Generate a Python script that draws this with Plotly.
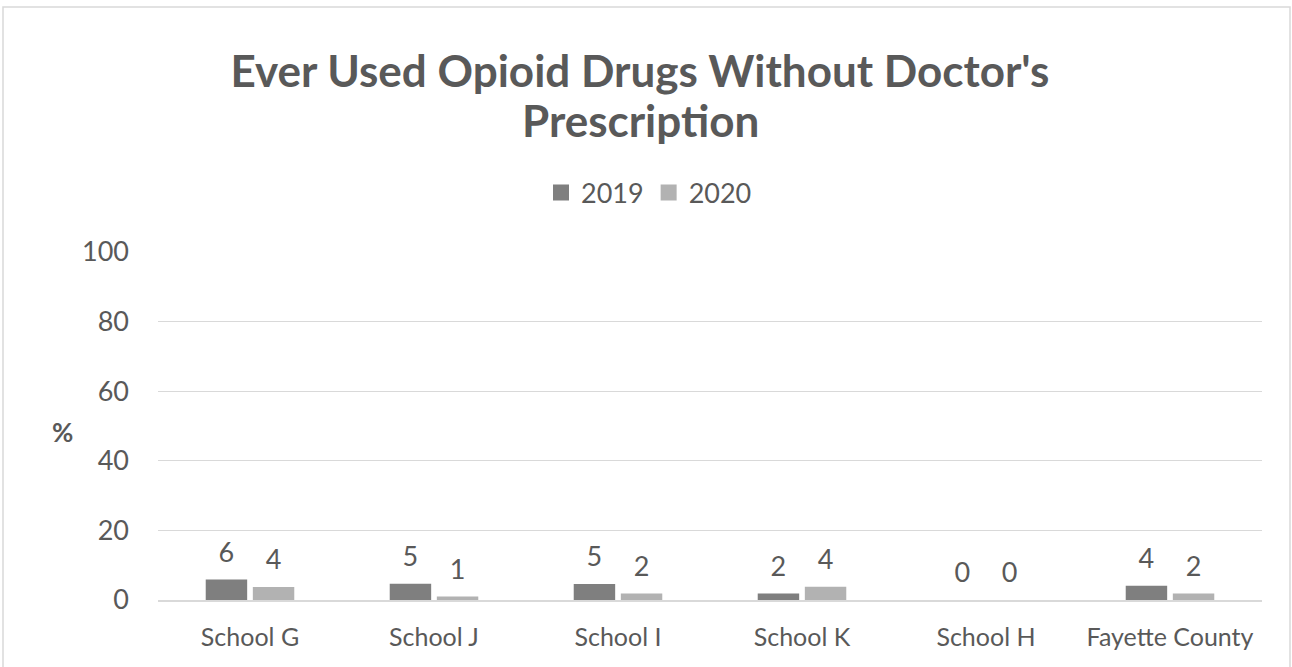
import plotly.graph_objects as go

categories = ["School G", "School J", "School I", "School K", "School H", "Fayette County"]
values_2019 = [5.9, 4.7, 4.6, 1.9, 0.0, 4.1]
values_2020 = [3.7, 1.0, 1.9, 3.8, 0.0, 1.9]
labels_2019 = ["6", "5", "5", "2", "0", "4"]
labels_2020 = ["4", "1", "2", "4", "0", "2"]
y_ticks = [0, 20, 40, 60, 80, 100]

FONT = "Lato, 'Open Sans', sans-serif"
TXT = "#595959"
C2019 = "#7f7f7f"
C2020 = "#b2b2b2"

W, H = 1292, 667
ML, MR, MT, MB = 158, 30, 252, 67
pw = W - ML - MR
ph = H - MT - MB

fig = go.Figure()
series = [("2019", values_2019, labels_2019, C2019, "a"),
          ("2020", values_2020, labels_2020, C2020, "b")]
for name, vals, labs, col, grp in series:
    fig.add_trace(go.Bar(
        name=name, x=categories, y=vals, offsetgroup=grp, showlegend=False,
        marker=dict(color=col, line=dict(width=0)),
    ))
for name, vals, labs, col, grp in series:
    fig.add_trace(go.Scatter(
        x=categories, y=vals, text=labs, mode="markers+text",
        textposition="top center", offsetgroup=grp, showlegend=False,
        marker=dict(size=16, color="rgba(0,0,0,0)"),
        textfont=dict(size=27, color=TXT, family=FONT),
        cliponaxis=False, hoverinfo="skip",
    ))
# legend entries (square swatches)
for name, vals, labs, col, grp in series:
    fig.add_trace(go.Scatter(
        name=name, x=[None], y=[None], mode="markers",
        marker=dict(symbol="square", size=16, color=col),
        showlegend=True,
    ))

fig.update_layout(
    width=W, height=H,
    margin=dict(l=ML, r=MR, t=MT, b=MB),
    paper_bgcolor="white", plot_bgcolor="white",
    barmode="group", bargap=0.488, bargroupgap=0.12,
    scattermode="group", scattergap=0.488,
    title=dict(
        text="<b>Ever Used Opioid Drugs Without Doctor's</b>",
        x=640 / W, xanchor="center", y=1 - 72 / H, yanchor="middle",
        font=dict(size=44, color=TXT, family=FONT),
    ),
    legend=dict(
        orientation="h", x=(649 - ML) / pw, xanchor="center",
        y=(H - MB - 193) / ph, yanchor="middle",
        font=dict(size=27, color=TXT, family=FONT),
        itemwidth=30, traceorder="normal",
    ),
    font=dict(family=FONT, color=TXT),
    shapes=[dict(
        type="rect", xref="paper", yref="paper",
        x0=(3 - ML) / pw, x1=(1290 - ML) / pw,
        y0=(H - MB - 700) / ph, y1=(H - MB - 7) / ph,
        line=dict(color="#d9d9d9", width=1.5), fillcolor="rgba(0,0,0,0)",
        layer="below",
    )],
)
fig.add_annotation(
    text="<b>Prescription</b>", xref="paper", yref="paper",
    x=(640 - ML) / pw, y=(H - MB - 120) / ph, showarrow=False,
    font=dict(size=44, color=TXT, family=FONT), xanchor="center", yanchor="middle",
)
fig.add_annotation(
    text="<b>%</b>", xref="paper", yref="paper",
    x=(62 - ML) / pw, y=(H - MB - 432) / ph, showarrow=False,
    font=dict(size=26, color=TXT, family=FONT), xanchor="center", yanchor="middle",
)
fig.update_xaxes(
    showline=True, linecolor="#d9d9d9", linewidth=1.5,
    ticks="", tickfont=dict(size=25, color=TXT, family=FONT),
    showgrid=False, ticklabelstandoff=14,
)
fig.update_yaxes(
    range=[0, 100], tickvals=y_ticks, showgrid=True,
    gridcolor="#d9d9d9", gridwidth=1, zeroline=False, showline=False,
    tickfont=dict(size=27, color=TXT, family=FONT), ticklen=0,
    ticklabelstandoff=28,
)

fig.write_html(
    "out.html",
    config={"displayModeBar": False},
    post_script="document.body.style.margin='0';document.body.style.overflow='hidden';",
)
